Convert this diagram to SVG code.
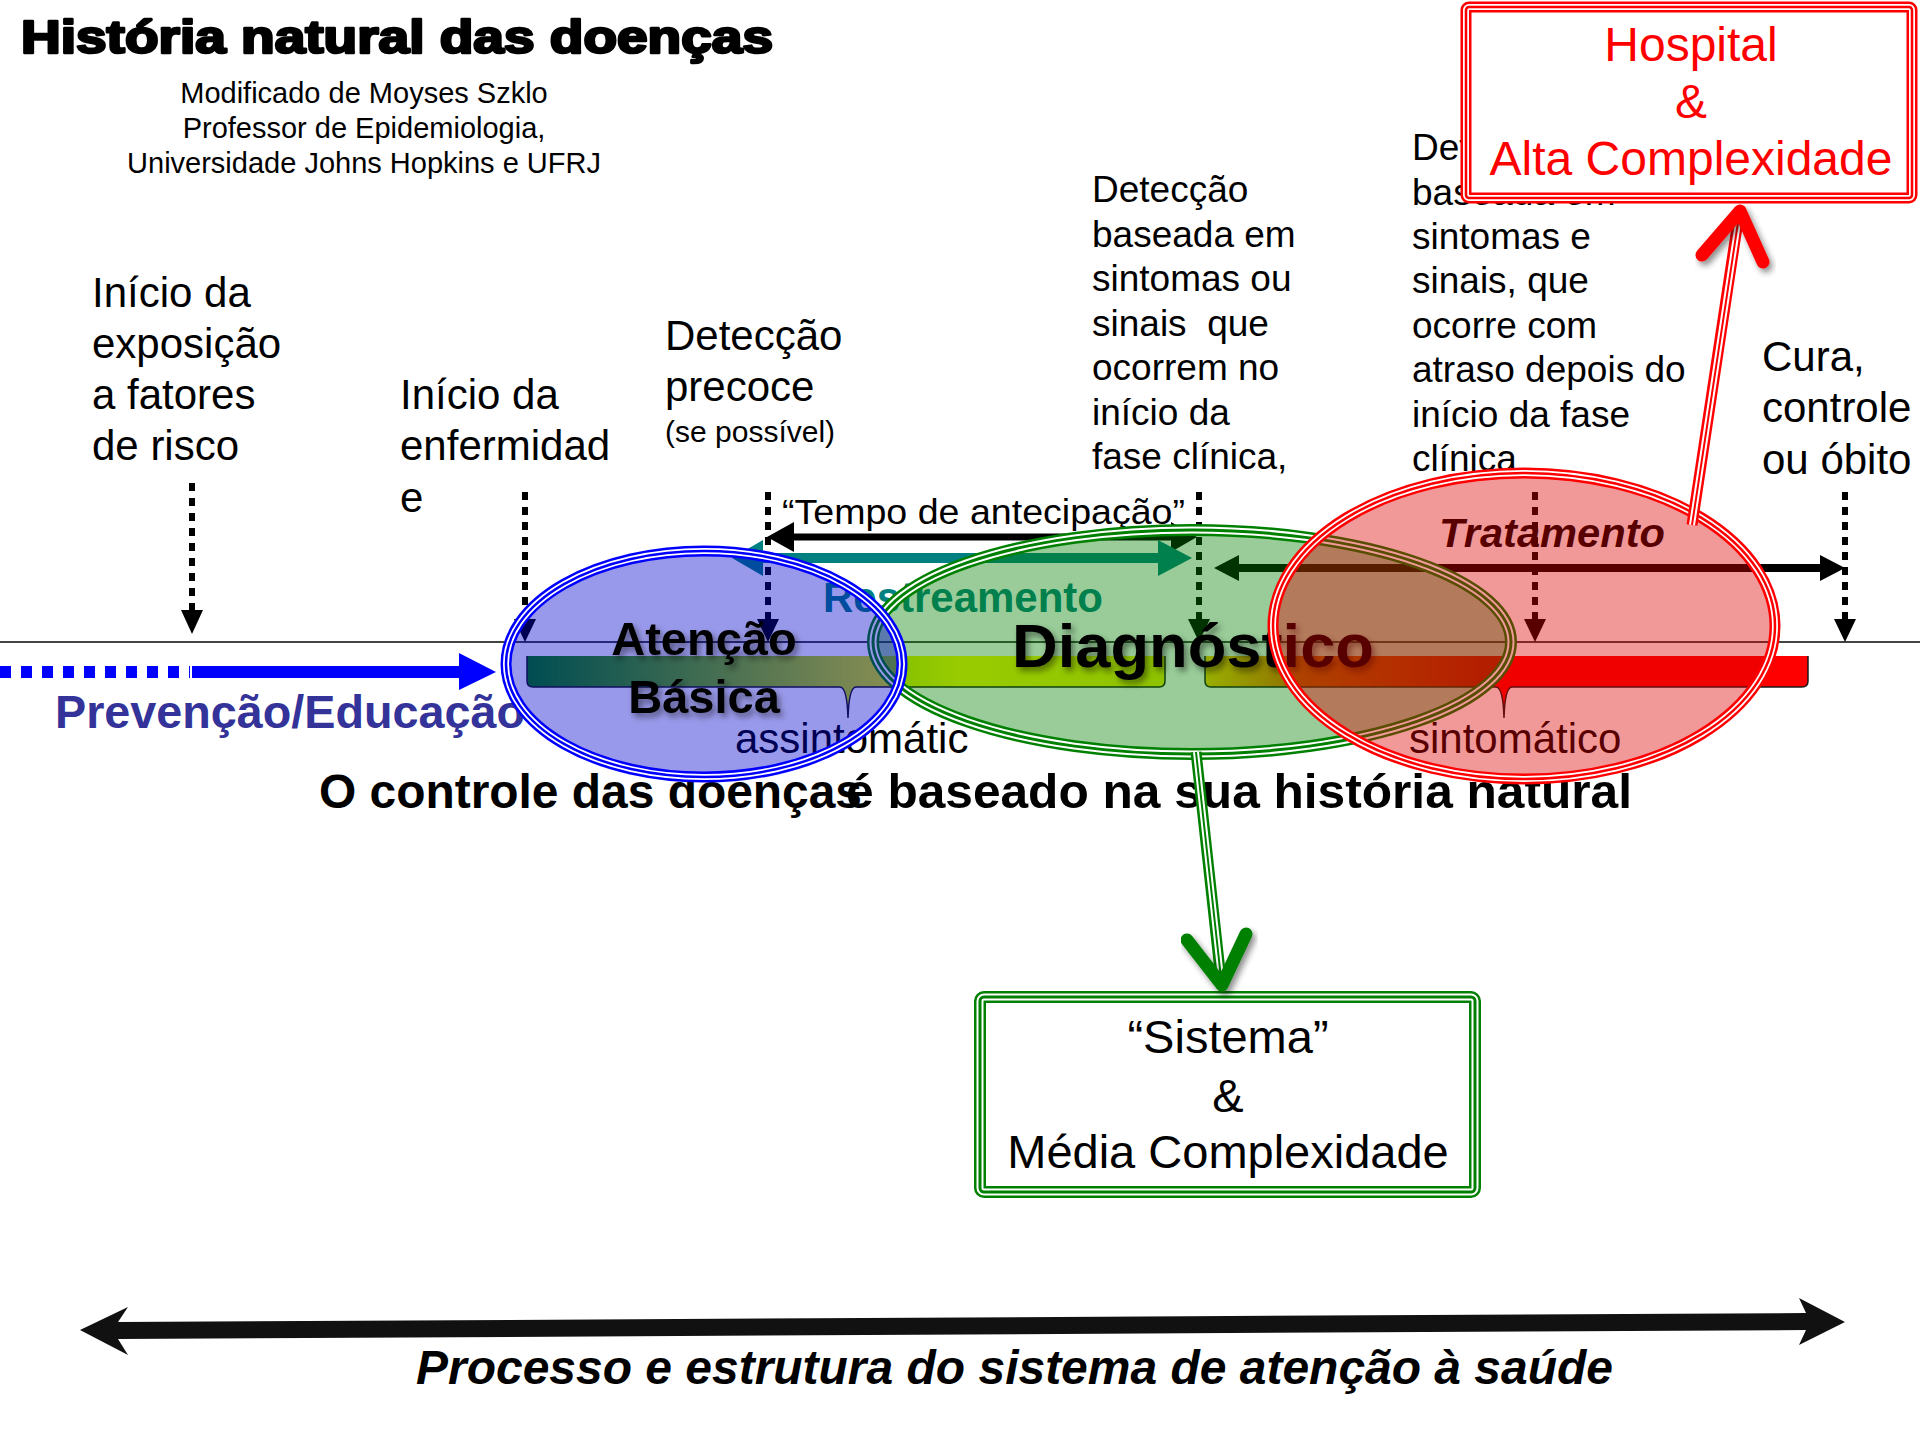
<svg xmlns="http://www.w3.org/2000/svg" width="1920" height="1440" viewBox="0 0 1920 1440">
<defs>
<style>
text{font-family:"Liberation Sans",Arial,sans-serif;fill:#000}
.lbl{font-size:42px}
.col{font-size:37px}
.sub{font-size:29px;text-anchor:middle}
.b{font-weight:bold}
.dash{stroke:#000;stroke-width:6;stroke-dasharray:8 7;fill:none}
.hd{fill:#000}
.outl{fill:none;stroke:#1a1a1a;stroke-width:1.5}
</style>
<linearGradient id="bar" gradientUnits="userSpaceOnUse" x1="527" y1="0" x2="1808" y2="0">
<stop offset="0" stop-color="#008000"/>
<stop offset="0.25" stop-color="#c8e000"/>
<stop offset="0.338" stop-color="#ffff00"/>
<stop offset="0.498" stop-color="#eef000"/>
<stop offset="0.529" stop-color="#ffd000"/>
<stop offset="0.606" stop-color="#f06000"/>
<stop offset="0.676" stop-color="#ff3000"/>
<stop offset="0.745" stop-color="#ff0000"/>
<stop offset="1" stop-color="#ff0000"/>
</linearGradient>
<filter id="sh" x="-10%" y="-30%" width="130%" height="170%"><feDropShadow dx="3" dy="4" stdDeviation="3" flood-color="#000" flood-opacity="0.45"/></filter>
</defs>
<rect width="1920" height="1440" fill="#fff"/>

<g id="title">
<text x="21" y="53" font-size="46" class="b" textLength="752" lengthAdjust="spacingAndGlyphs" stroke="#000" stroke-width="2.6" stroke-linejoin="round">História natural das doenças</text>
<text x="364" y="103" class="sub">Modificado de Moyses Szklo</text>
<text x="364" y="138" class="sub">Professor de Epidemiologia,</text>
<text x="364" y="173" class="sub">Universidade Johns Hopkins e UFRJ</text>
</g>

<g id="labels">
<text class="lbl" x="92" y="307">Início da</text>
<text class="lbl" x="92" y="358">exposição</text>
<text class="lbl" x="92" y="409">a fatores</text>
<text class="lbl" x="92" y="460">de risco</text>
<text class="lbl" x="400" y="409">Início da</text>
<text class="lbl" x="400" y="460">enfermidad</text>
<text class="lbl" x="400" y="512">e</text>
<text class="lbl" x="665" y="350">Detecção</text>
<text class="lbl" x="665" y="401">precoce</text>
<text x="665" y="442" font-size="30">(se possível)</text>
<text class="col" x="1092" y="202">Detecção</text>
<text class="col" x="1092" y="246.5">baseada em</text>
<text class="col" x="1092" y="291">sintomas ou</text>
<text class="col" x="1092" y="335.5" xml:space="preserve">sinais  que</text>
<text class="col" x="1092" y="380">ocorrem no</text>
<text class="col" x="1092" y="424.5">início da</text>
<text class="col" x="1092" y="469">fase clínica,</text>
<text class="col" x="1412" y="160">Detecção</text>
<text class="col" x="1412" y="205">baseada em</text>
<text class="col" x="1412" y="249">sintomas e</text>
<text class="col" x="1412" y="293">sinais, que</text>
<text class="col" x="1412" y="338">ocorre com</text>
<text class="col" x="1412" y="382">atraso depois do</text>
<text class="col" x="1412" y="427">início da fase</text>
<text class="col" x="1412" y="471">clínica</text>
<text class="lbl" x="1762" y="371">Cura,</text>
<text class="lbl" x="1762" y="422">controle</text>
<text class="lbl" x="1762" y="474">ou óbito</text>
</g>

<g id="timeline">
<line x1="0" y1="642" x2="1920" y2="642" stroke="#444" stroke-width="2"/>
<path d="M527,656 H1165 V681 Q1165,687 1159,687 H856 Q849,687 848,718 Q847,687 840,687 H533 Q527,687 527,681 Z" fill="url(#bar)"/>
<path class="outl" d="M527,656 V681 Q527,687 533,687 H840 Q847,687 848,718 Q849,687 856,687 H1159 Q1165,687 1165,681 V656"/>
<path d="M1205,656 H1808 V681 Q1808,687 1802,687 H1512 Q1505,687 1504,718 Q1503,687 1496,687 H1211 Q1205,687 1205,681 Z" fill="url(#bar)"/>
<path class="outl" d="M1205,656 V681 Q1205,687 1211,687 H1496 Q1503,687 1504,718 Q1505,687 1512,687 H1802 Q1808,687 1808,681 V656"/>
<text class="lbl" x="735" y="753">assintomátic</text>
<text class="lbl" x="1409" y="753">sintomático</text>

<line class="dash" x1="192" y1="483" x2="192" y2="612"/>
<polygon class="hd" points="181,610 203,610 192,634"/>
<line class="dash" x1="525" y1="492" x2="525" y2="620"/>
<polygon class="hd" points="514,619 536,619 525,642"/>
<line class="dash" x1="768" y1="492" x2="768" y2="620"/>
<polygon class="hd" points="757,619 779,619 768,642"/>
<line class="dash" x1="1199" y1="492" x2="1199" y2="620"/>
<polygon class="hd" points="1188,619 1210,619 1199,642"/>
<line class="dash" x1="1535" y1="492" x2="1535" y2="620"/>
<polygon class="hd" points="1524,619 1546,619 1535,642"/>
<line class="dash" x1="1845" y1="492" x2="1845" y2="620"/>
<polygon class="hd" points="1834,619 1856,619 1845,642"/>

<text x="782" y="524" font-size="35" textLength="403" lengthAdjust="spacingAndGlyphs">“Tempo de antecipação”</text>
<line x1="790" y1="537" x2="1175" y2="537" stroke="#000" stroke-width="7"/>
<polygon class="hd" points="767,537 794,522 794,552"/>
<polygon class="hd" points="1197,537 1171,522 1171,552"/>

<line x1="755" y1="558" x2="1168" y2="558" stroke="#008080" stroke-width="10"/>
<polygon fill="#008080" points="732,558 763,540 763,576"/>
<polygon fill="#008080" points="1192,558 1158,540 1158,576"/>
<text x="823" y="612" font-size="42" class="b" style="fill:#008080" textLength="280" lengthAdjust="spacingAndGlyphs">Restreamento</text>

<line x1="1232" y1="568" x2="1826" y2="568" stroke="#000" stroke-width="8"/>
<polygon class="hd" points="1214,568 1239,555 1239,581"/>
<polygon class="hd" points="1845,568 1820,555 1820,581"/>

<line x1="0" y1="672" x2="190" y2="672" stroke="#0000ff" stroke-width="12" stroke-dasharray="11 10"/>
<line x1="192" y1="672" x2="462" y2="672" stroke="#0000ff" stroke-width="12"/>
<polygon fill="#0000ff" points="459,653 496,672 459,690"/>
<text x="55" y="728" font-size="46" class="b" style="fill:#333399" textLength="470" lengthAdjust="spacingAndGlyphs">Prevenção/Educação</text>

<text x="319" y="808" font-size="48" class="b" textLength="543" lengthAdjust="spacingAndGlyphs">O controle das doenças</text>
<text x="846" y="808" font-size="48" class="b" textLength="786" lengthAdjust="spacingAndGlyphs">é baseado na sua história natural</text>
</g>

<g id="n-diagnostico">
<ellipse cx="1192" cy="642" rx="319" ry="112" fill="#008000" fill-opacity="0.4"/>
<ellipse cx="1192" cy="642" rx="319" ry="112" fill="none" stroke="#008000" stroke-width="12"/>
<ellipse cx="1192" cy="642" rx="319" ry="112" fill="none" stroke="#fff" stroke-width="7"/>
<ellipse cx="1192" cy="642" rx="319" ry="112" fill="none" stroke="#008000" stroke-width="3"/>
<text x="1012" y="667" font-size="62" class="b" filter="url(#sh)" textLength="362" lengthAdjust="spacingAndGlyphs">Diagnóstico</text>
</g>

<g id="n-tratamento">
<text x="1439" y="547" font-size="41" class="b" font-style="italic" textLength="226" lengthAdjust="spacingAndGlyphs">Tratamento</text>
<ellipse cx="1524" cy="626" rx="251" ry="153" fill="#dc0000" fill-opacity="0.4"/>
<ellipse cx="1524" cy="626" rx="251" ry="153" fill="none" stroke="#ff0000" stroke-width="11"/>
<ellipse cx="1524" cy="626" rx="251" ry="153" fill="none" stroke="#fff" stroke-width="6"/>
<ellipse cx="1524" cy="626" rx="251" ry="153" fill="none" stroke="#ff0000" stroke-width="2.5"/>
</g>

<g id="n-atencao">
<ellipse cx="704" cy="664" rx="198" ry="113" fill="#0000cc" fill-opacity="0.4"/>
<ellipse cx="704" cy="664" rx="198" ry="113" fill="none" stroke="#0000ff" stroke-width="11"/>
<ellipse cx="704" cy="664" rx="198" ry="113" fill="none" stroke="#fff" stroke-width="6"/>
<ellipse cx="704" cy="664" rx="198" ry="113" fill="none" stroke="#0000ff" stroke-width="2.5"/>
<g filter="url(#sh)">
<text x="704" y="655" font-size="47" class="b" text-anchor="middle">Atenção</text>
<text x="704" y="713" font-size="47" class="b" text-anchor="middle">Básica</text>
</g>
</g>

<g id="n-hospital">
<rect x="1466" y="7" width="446" height="191" rx="3" fill="#fff" stroke="#ff0000" stroke-width="11"/>
<rect x="1466" y="7" width="446" height="191" rx="3" fill="none" stroke="#fff" stroke-width="6"/>
<rect x="1466" y="7" width="446" height="191" rx="3" fill="none" stroke="#ff0000" stroke-width="2.5"/>
<text x="1691" y="61" font-size="48" text-anchor="middle" style="fill:#ff0000">Hospital</text>
<text x="1691" y="118" font-size="48" text-anchor="middle" style="fill:#ff0000">&amp;</text>
<text x="1691" y="175" font-size="48" text-anchor="middle" style="fill:#ff0000">Alta Complexidade</text>
</g>

<g id="n-sistema">
<rect x="980" y="997" width="495" height="195" rx="4" fill="#fff" stroke="#008000" stroke-width="12"/>
<rect x="980" y="997" width="495" height="195" rx="4" fill="none" stroke="#fff" stroke-width="7"/>
<rect x="980" y="997" width="495" height="195" rx="4" fill="none" stroke="#008000" stroke-width="3"/>
<text x="1228" y="1053" font-size="47" text-anchor="middle">“Sistema”</text>
<text x="1228" y="1112" font-size="47" text-anchor="middle">&amp;</text>
<text x="1228" y="1168" font-size="47" text-anchor="middle">Média Complexidade</text>
</g>

<g id="connectors">
<line x1="1692" y1="525" x2="1739" y2="214" stroke="#ff0000" stroke-width="11"/>
<line x1="1692" y1="525" x2="1739" y2="216" stroke="#fff" stroke-width="6"/>
<line x1="1692" y1="525" x2="1739" y2="216" stroke="#ff0000" stroke-width="2"/>
<polyline points="1702,255 1740,211 1763,262" fill="none" stroke="#ff0000" stroke-width="13" stroke-linecap="round" stroke-linejoin="round" filter="url(#sh)"/>
<line x1="1196" y1="752" x2="1221" y2="980" stroke="#008000" stroke-width="11"/>
<line x1="1196" y1="752" x2="1221" y2="978" stroke="#fff" stroke-width="6"/>
<line x1="1196" y1="752" x2="1221" y2="978" stroke="#008000" stroke-width="2"/>
<polyline points="1187,940 1222,985 1246,934" fill="none" stroke="#008000" stroke-width="13" stroke-linecap="round" stroke-linejoin="round" filter="url(#sh)"/>
</g>

<g id="process">
<polygon fill="#111" points="80,1330 128,1307 118,1322 1806,1313 1799,1298 1845,1322 1799,1345 1806,1330 118,1339 128,1355"/>
<text x="416" y="1384" font-size="48" class="b" font-style="italic" textLength="1197" lengthAdjust="spacingAndGlyphs">Processo e estrutura do sistema de atenção à saúde</text>
</g>
</svg>
